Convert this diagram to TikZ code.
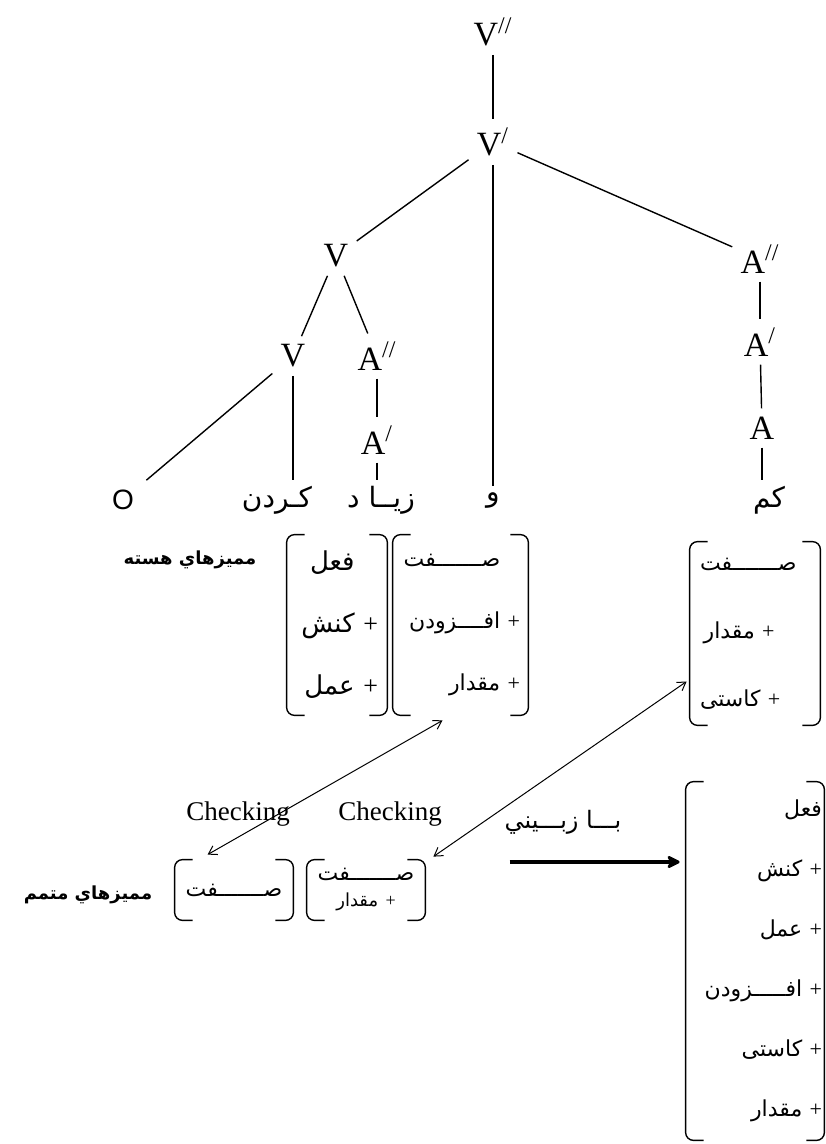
\documentclass[tikz,border=0pt]{standalone}
\usepackage{fontspec}
\setmainfont{Liberation Serif}
\setsansfont{Liberation Sans}
\newfontfamily\arabicfont[Script=Arabic]{DejaVu Sans}
\TeXXeTstate=1
\usetikzlibrary{arrows.meta}

\newcommand{\fa}[1]{{\arabicfont\beginR #1\endR}}
\newcommand{\brackets}[1]{%
	\draw [bracket] ([xshift=9pt]#1.north west) -- (#1.north west) -- (#1.south west) -- ([xshift=9pt]#1.south west);
	\draw [bracket] ([xshift=-9pt]#1.north east) -- (#1.north east) -- (#1.south east) -- ([xshift=-9pt]#1.south east);}

\tikzstyle{cat} = [inner sep=4pt, font=\fontsize{17}{20}\selectfont]
\tikzstyle{leaf} = [inner sep=3pt, font=\fontsize{14}{16}\selectfont]
\tikzstyle{branch} = [line width=0.7pt]
\tikzstyle{featbox} = [inner ysep=0pt, font=\fontsize{11}{31}\selectfont]
\tikzstyle{bracket} = [line width=0.7pt, rounded corners=4pt]
\tikzstyle{tag} = [inner sep=2pt, font=\arabicfont\bfseries\fontsize{9}{11}\selectfont]
\tikzstyle{check} = [inner sep=2pt, font=\fontsize{13.5}{16}\selectfont]
\tikzstyle{arrow} = [line width=0.5pt, {Straight Barb[length=4pt,width=5pt]}-{Straight Barb[length=4pt,width=5pt]}]
\tikzstyle{bigarrow} = [line width=2pt, -{Stealth[length=8pt,width=8pt,round]}]

\begin{document}
\begin{tikzpicture}[x=0.5pt, y=-0.5pt, node distance=60pt]
	\useasboundingbox (0,0) rectangle (825,1144);
	% Place nodes
	\node [cat] (Vbar2) at (493,32) {V\textsuperscript{//}};
	\node [cat, below of=Vbar2, yshift=5pt] (Vbar1) {V\textsuperscript{/}};
	\node [cat, below of=Vbar1, xshift=-78.5pt, yshift=3pt] (V) {V};
	\node [cat, below of=Vbar1, xshift=133.5pt, yshift=1.5pt] (Abar2R) {A\textsuperscript{//}};
	\node [cat, below of=Abar2R, yshift=18.5pt] (Abar1R) {A\textsuperscript{/}};
	\node [cat, below of=Abar1R, xshift=1pt, yshift=17pt] (AR) {A};
	\node [cat, below of=V, xshift=-21.5pt, yshift=10pt] (Vlow) {V};
	\node [cat, right of=Vlow, xshift=-18pt] (Abar2L) {A\textsuperscript{//}};
	\node [cat, below of=Abar2L, yshift=18pt] (Abar1L) {A\textsuperscript{/}};
	% leaves
	\node [leaf, below of=Abar1L, xshift=2pt, yshift=30pt] (ziyad) {\fa{زيــا د}};
	\node [leaf, left of=ziyad, xshift=8pt] (kardan) {\fa{کـردن}};
	\node [leaf, left of=kardan, xshift=-17pt, font=\sffamily\fontsize{14}{16}\selectfont] (obj) {O};
	\node [leaf, right of=ziyad, xshift=-4pt] (waw) {\fa{و}};
	\node [leaf, below of=AR, xshift=3.5pt, yshift=24pt] (kam) {\fa{کم}};
	% feature boxes
	\node [featbox, below of=ziyad, xshift=-22pt, yshift=-2.5pt, inner xsep=4.5pt, text width=41pt, minimum height=90pt, align=right, font=\fontsize{13}{31}\selectfont] (head1)
		{\fa{فعل}\phantom{ +}\\ \fa{کنش} +\\ \fa{عمل} +};
	\node [featbox, right of=head1, xshift=1.75pt, inner xsep=4pt, text width=59.5pt, minimum height=90pt, align=right] (head2)
		{\fa{صـــــــفت}\phantom{ +}\\ \fa{افــــزودن} +\\ \fa{مقدار} +};
	\node [featbox, below of=kam, xshift=-7pt, yshift=-6.75pt, inner xsep=5pt, text width=55pt, minimum height=91.5pt, align=left, font=\fontsize{11}{34}\selectfont] (head3)
		{\fa{صـــــــفت}\\ \,\fa{مقدار} +\\ \fa{کاستی} +};
	\node [featbox, below of=head3, yshift=-103.75pt, inner xsep=1pt, text width=67pt, minimum height=179pt, align=right, font=\fontsize{11}{30}\selectfont] (result)
		{\fa{فعل}\\ \fa{کنش} +\\ \fa{عمل} +\\ \fa{افـــــزودن} +\\ \fa{کاستی} +\\ \fa{مقدار} +};
	\node [featbox, below of=head1, xshift=-51.5pt, yshift=-72.5pt, inner xsep=2pt, text width=55pt, minimum height=30pt, align=center] (comp1)
		{\fa{صـــــــفت}};
	\node [featbox, right of=comp1, xshift=6pt, inner xsep=2pt, text width=55pt, minimum height=30pt, align=center, font=\fontsize{11}{13}\selectfont] (comp2)
		{\fa{صـــــــفت}\\ {\fontsize{9}{11}\selectfont\fa{مقدار} +}};
	% labels
	\node [tag, left of=head1, xshift=-13.5pt, yshift=32.5pt] (headtag) {\beginR مميزهاي هسته\endR};
	\node [tag, left of=comp1, xshift=-13pt, yshift=-2.5pt] (comptag) {\beginR مميزهاي متمم\endR};
	\node [check, above of=comp1, xshift=2pt, yshift=-22pt] (check1) {Checking};
	\node [check, above of=comp2, xshift=12pt, yshift=-22pt] (check2) {Checking};
	\node [leaf, left of=result, xshift=-36pt, yshift=69.5pt, font=\fontsize{12}{14}\selectfont] (bazbini) {\fa{بـــا زبـــيني}};
	\coordinate (a1) at ([xshift=-9pt, yshift=-2.5pt]head2.south);
	\coordinate (a2) at ([xshift=16.5pt, yshift=2.5pt]comp1.north west);
	\coordinate (b1) at ([xshift=-1.5pt, yshift=-24pt]head3.west);
	\coordinate (b2) at ([xshift=4pt, yshift=1.5pt]comp2.north east);
	\coordinate (t1) at ([xshift=-88pt, yshift=49.5pt]result.west);
	\coordinate (t2) at ([xshift=-3pt, yshift=49.5pt]result.west);
	% Draw edges
	\draw [branch] (Vbar2) -- (Vbar1);
	\draw [branch] (Vbar1) -- (V);
	\draw [branch] (Vbar1) -- (Abar2R);
	\draw [branch] (Vbar1) -- (waw);
	\draw [branch] (V) -- (Vlow);
	\draw [branch] (V) -- (Abar2L);
	\draw [branch, shorten >=4pt] (Vlow) -- (obj);
	\draw [branch] (Vlow) -- (Vlow |- kardan.north);
	\draw [branch] (Abar2L) -- (Abar1L);
	\draw [branch] (Abar1L) -- (Abar1L |- ziyad.north);
	\draw [branch] (Abar2R) -- (Abar1R);
	\draw [branch] (Abar1R) -- (AR);
	\draw [branch] (AR) -- (AR |- kam.north);
	\brackets{head1}
	\brackets{head2}
	\brackets{head3}
	\brackets{comp1}
	\brackets{comp2}
	\brackets{result}
	\draw [arrow] (a1) -- (a2);
	\draw [arrow] (b1) -- (b2);
	\draw [bigarrow] (t1) -- (t2);
\end{tikzpicture}
\end{document}
